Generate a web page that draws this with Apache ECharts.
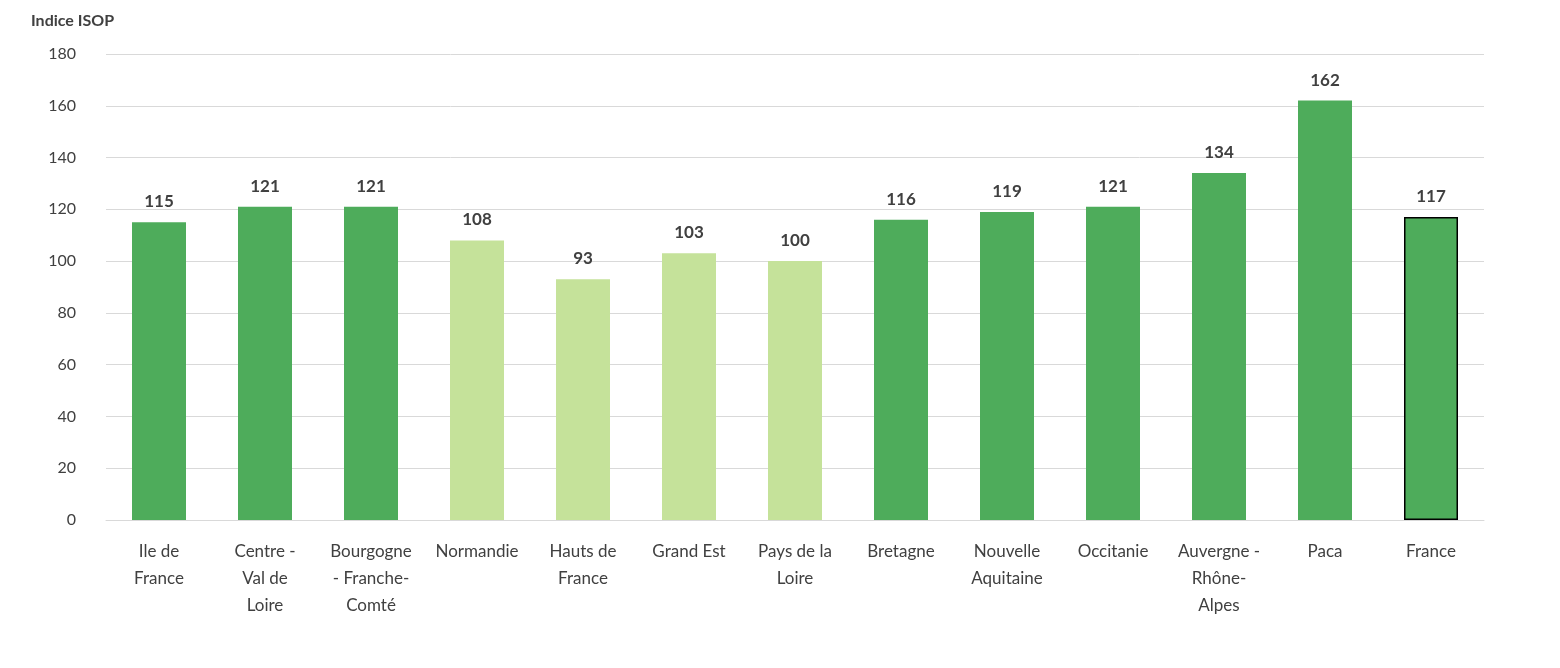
<!DOCTYPE html>
<html><head><meta charset="utf-8">
<script src="https://cdn.jsdelivr.net/npm/echarts@6/dist/echarts.min.js"></script>
<style>html,body{margin:0;background:#fff}#c{width:1560px;height:668px}</style>
</head><body><div id="c"></div>
<script>
const regions = ['Ile de\nFrance','Centre -\nVal de\nLoire','Bourgogne\n- Franche-\nComté','Normandie','Hauts de\nFrance','Grand Est','Pays de la\nLoire','Bretagne','Nouvelle\nAquitaine','Occitanie','Auvergne -\nRhône-\nAlpes','Paca','France'];
const isop = [115, 121, 121, 108, 93, 103, 100, 116, 119, 121, 134, 162, 117];
const shadeLight = [false, false, false, true, true, true, true, false, false, false, false, false, false];

const chart = echarts.init(document.getElementById('c'));
chart.setOption({
  textStyle: { fontFamily: 'Lato' },
  title: { text: 'Indice ISOP', left: 26, top: 8, textStyle: { fontSize: 16, fontWeight: 'bold', color: '#404040' } },
  grid: { left: 106, right: 76, top: 54, bottom: 148 },
  xAxis: {
    type: 'category', data: regions,
    axisTick: { show: false },
    axisLine: { lineStyle: { color: '#d9d9d9' } },
    axisLabel: { interval: 0, color: '#404040', fontSize: 17, lineHeight: 27, margin: 18 }
  },
  yAxis: {
    type: 'value', min: 0, max: 180, interval: 20,
    axisLabel: { color: '#404040', fontSize: 16, margin: 30 },
    splitLine: { lineStyle: { color: '#d9d9d9' } }
  },
  series: [{
    type: 'bar', barWidth: 54,
    data: isop.map((v, i) => ({
      value: v,
      itemStyle: {
        color: shadeLight[i] ? '#c5e29a' : '#4eac5b',
        borderColor: i === isop.length - 1 ? '#000' : 'transparent',
        borderWidth: i === isop.length - 1 ? 1.5 : 0
      }
    })),
    label: { show: true, position: 'top', distance: 12, fontSize: 17, fontWeight: 'bold', color: '#404040' }
  }]
});
</script></body></html>
